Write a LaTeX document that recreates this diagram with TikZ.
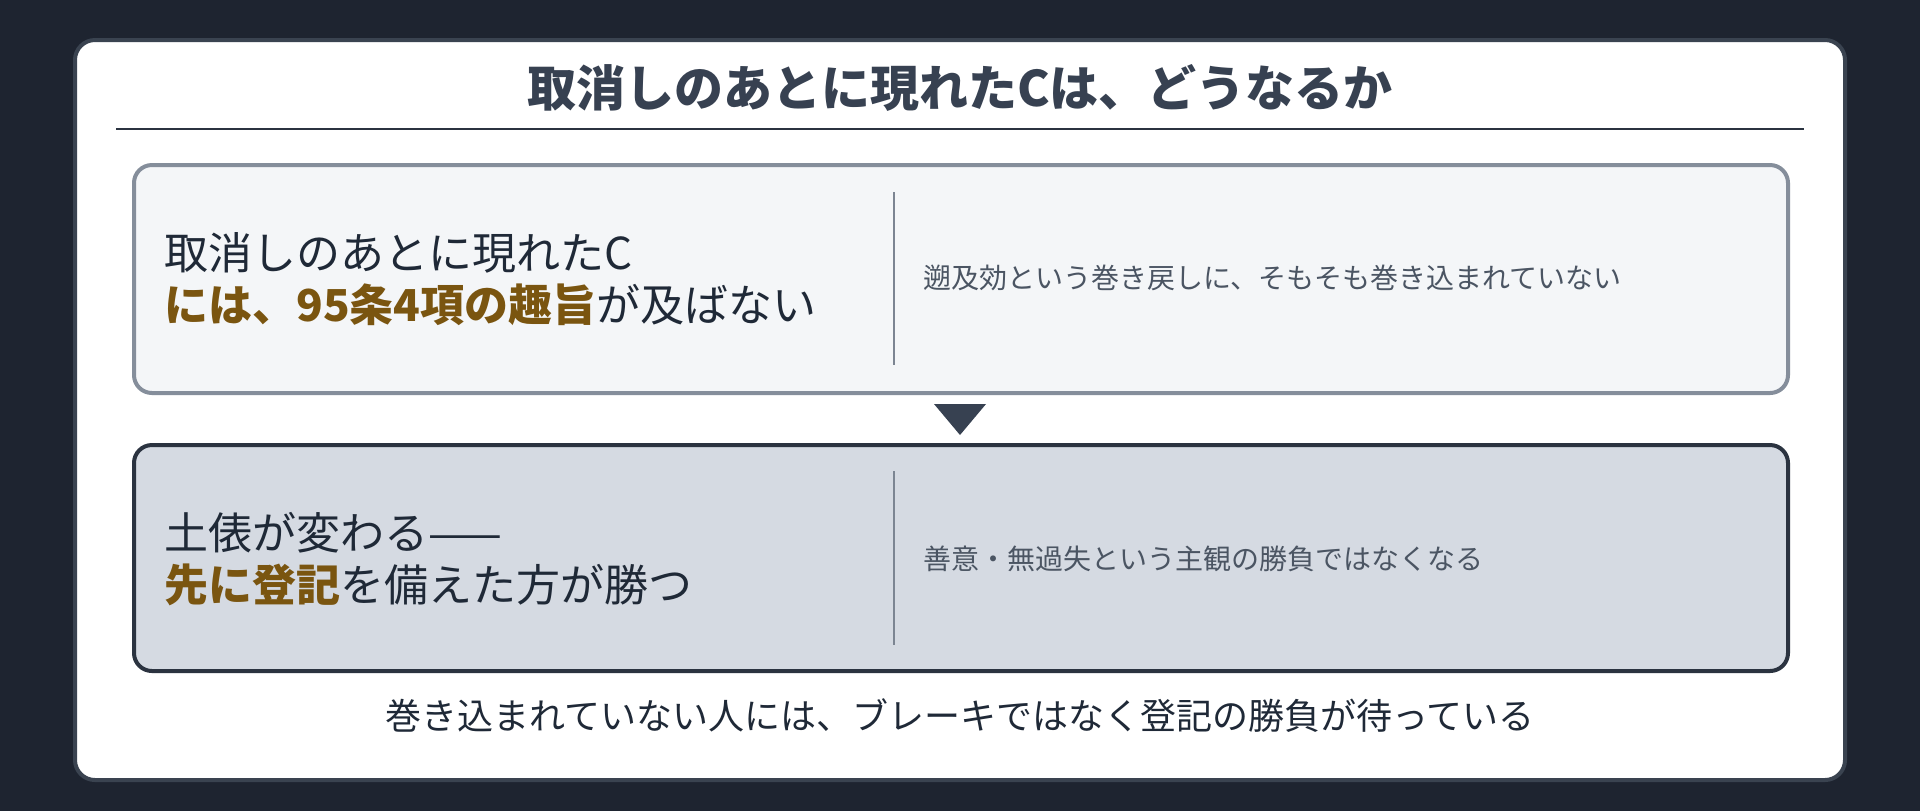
\documentclass[tikz,border=0pt]{standalone}
\usepackage{fontspec}
\setmainfont{Noto Sans CJK JP}
\definecolor{bg}{HTML}{1E2430}
\definecolor{cardline}{HTML}{3A4350}
\definecolor{titleink}{HTML}{374151}
\definecolor{ink}{HTML}{1F2937}
\definecolor{gold}{HTML}{7A5510}
\definecolor{notegray}{HTML}{4B5563}
\definecolor{paleline}{HTML}{858E9B}
\definecolor{palefill}{HTML}{F4F6F8}
\definecolor{darkline}{HTML}{2B3340}
\definecolor{darkfill}{HTML}{D5DAE2}
\definecolor{sepgray}{HTML}{7C8592}
\newcommand{\hi}[1]{{\bfseries\color{gold}#1}}
\begin{document}
\begin{tikzpicture}[x=0.5pt,y=-0.5pt,
    card/.style={draw=cardline, line width=2pt, fill=white, rounded corners=10pt,
        minimum width=885pt, minimum height=370pt},
    panel/.style={line width=2pt, rounded corners=9pt, minimum width=827pt, inner sep=0pt},
    lead/.style={anchor=west, align=left, inner sep=0pt, text=ink,
        font=\fontsize{22}{26}\selectfont},
    note/.style={anchor=west, inner sep=0pt, text=notegray, font=\fontsize{14}{17}\selectfont},
    sep/.style={sepgray, line width=1pt}]
    \fill[bg] (0,0) rectangle (1920,811);
    \node[card] (card) at (960,410) {};

    \node[inner sep=0pt, text=titleink, font=\bfseries\fontsize{24.5}{28}\selectfont] (title) at (960,88) {取消しのあとに現れたCは、どうなるか};
    \draw[darkline, line width=1pt] (116,129) -- (1804,129);

    \node[panel, draw=paleline, fill=palefill, minimum height=114pt] (upper) at (961,279) {};
    \draw[sep] (894,192) -- (894,365);
    \node[lead] (upperlead) at (164,279) {取消しのあとに現れたC\\\hi{には、95条4項の趣旨}が及ばない};
    \node[note] (uppernote) at (923,278) {遡及効という巻き戻しに、そもそも巻き込まれていない};

    \fill[titleink] (934,404) -- (986,404) -- (960,435) -- cycle;

    \node[panel, draw=darkline, fill=darkfill, minimum height=113pt] (lower) at (961,558) {};
    \draw[sep] (894,471) -- (894,645);
    \node[lead] (lowerlead) at (164,559) {土俵が変わる——\\\hi{先に登記}を備えた方が勝つ};
    \node[note] (lowernote) at (923,559) {善意・無過失という主観の勝負ではなくなる};

    \node[inner sep=0pt, text=ink, font=\fontsize{18}{22}\selectfont] (moral) at (960,716) {巻き込まれていない人には、ブレーキではなく登記の勝負が待っている};
\end{tikzpicture}
\end{document}
